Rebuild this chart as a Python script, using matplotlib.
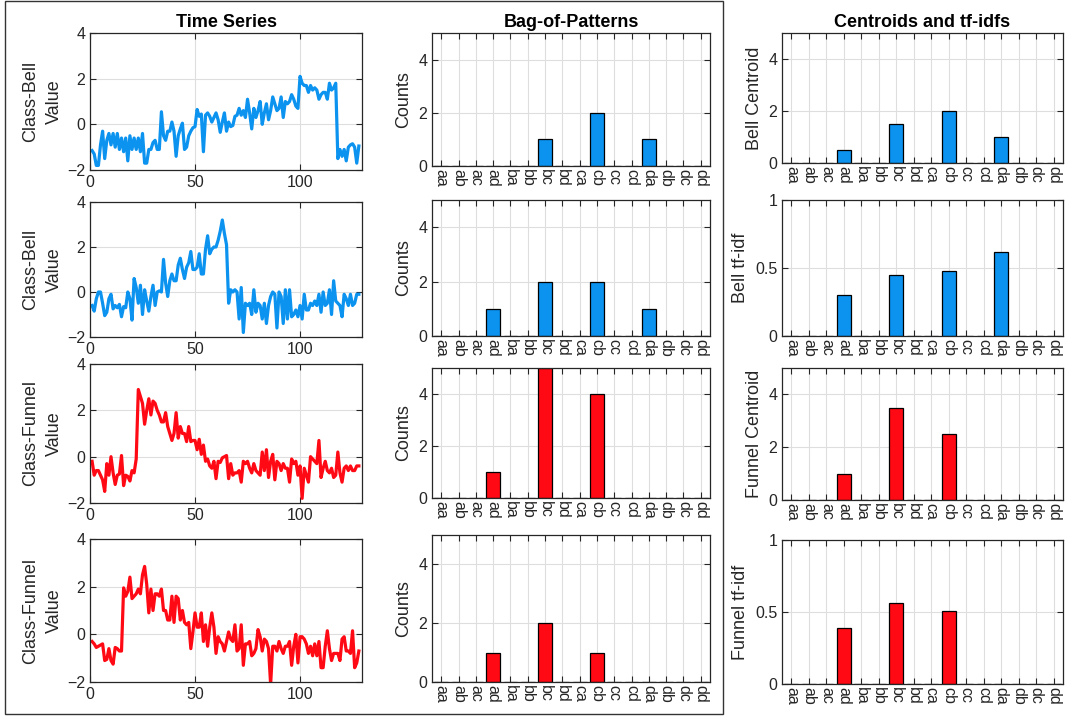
import numpy as np
import matplotlib
matplotlib.use("Agg")
import matplotlib.pyplot as plt
from matplotlib.patches import Rectangle

plt.rcParams["font.family"] = ["Liberation Sans", "DejaVu Sans"]

# ── Data ─────────────────────────────────────────────────────────────────────
patterns = ["aa", "ab", "ac", "ad", "ba", "bb", "bc", "bd",
            "ca", "cb", "cc", "cd", "da", "db", "dc", "dd"]

bell_1 = [-1.15, -1.3, -1.8, -1.8, -0.9, -0.3, -1.5, -0.7, -0.4, -0.9,
          -0.4, -1.0, -0.4, -1.1, -0.6, -1.2, -0.6, -1.6, -0.5, -1.1,
          -0.6, -1.1, -0.6, -1.2, -0.4, -1.7, -1.7, -1.1, -1.1, -0.8,
          -0.7, -1.1, -1.1, 0.55, -0.5, -0.7, -0.3, -0.3, 0.1, -0.3,
          -1.4, -0.5, -0.2, 0.05, -1.1, -1.0, -0.5, -0.3, -0.15, -0.1,
          0.65, 0.35, 0.45, -1.2, 0.4, 0.5, 0.35, 0.1, 0.3, 0.5,
          0.2, -0.35, 0.1, 0.5, -0.3, 0.1, -0.1, -0.05, 0.35, 0.4,
          0.7, 0.4, 0.6, 0.3, 1.1, 0.5, -0.2, 0.7, 0.3, 0.6,
          1.0, 0.0, 0.5, 0.9, 0.2, 0.6, 1.2, 0.9, 0.6, 0.7,
          1.2, 0.3, 1.0, 0.9, 1.0, 1.3, 1.1, 0.8, 0.7, 2.1,
          1.8, 1.7, 1.7, 1.4, 1.7, 1.5, 1.6, 1.5, 1.1, 1.3,
          1.4, 1.4, 1.1, 1.8, 1.5, 1.6, 1.8, -1.5, -1.1, -1.4,
          -1.1, -1.6, -1.0, -0.9, -0.85, -1.0, -1.7, -0.95]

bell_2 = [-0.6, -0.85, -0.3, 0.0, 0.0, -0.5, -1.05, -0.9, -0.3, -0.1,
          -0.75, -0.6, -0.7, -0.55, -1.1, -0.65, -0.7, 0.0, -0.3, -1.25,
          0.6, 0.2, -0.5, 0.3, -1.0, 0.1, -0.4, -0.85, -0.2, 0.3,
          -0.6, 0.0, 0.05, 0.0, 1.45, 0.4, -0.2, 0.5, 0.8, 0.5,
          0.5, 1.2, 1.5, 1.0, 0.6, 1.1, 1.3, 1.8, 1.0, 1.0,
          1.1, 1.7, 0.8, 0.8, 1.9, 2.5, 1.7, 1.9, 2.0, 2.0,
          2.3, 2.7, 3.2, 2.6, 2.1, -0.5, 0.1, 0.0, 0.1, 0.0,
          -1.2, 0.2, -1.8, -0.5, -0.6, -0.5, -1.0, 0.1, -0.9, -0.5,
          -0.6, -1.2, -0.5, -1.4, -0.6, -0.2, 0.0, -0.1, -1.6, 0.0,
          -0.2, -1.4, 0.1, -1.2, 0.1, -1.1, -1.0, -0.8, -1.1, -0.6,
          -1.2, -0.1, -0.8, -0.8, -0.5, -0.6, -0.4, -0.6, -0.1, -0.9,
          0.0, -0.6, -0.5, 0.1, -1.0, 0.5, -0.4, -0.5, -0.6, -1.1,
          -0.1, -0.3, -0.6, -0.1, -0.6, -0.5, -0.1, -0.1]

funnel_1 = [-0.2, -0.8, -0.6, -0.6, -0.8, -1.0, -1.5, -0.3, -0.8, 0.0,
            -0.7, -1.2, -0.8, -0.75, 0.05, -1.25, -0.8, -0.85, -1.05, -0.6,
            -0.7, -0.1, 2.9, 2.6, 2.3, 1.4, 2.0, 2.5, 1.8, 2.4,
            2.3, 2.0, 1.8, 1.5, 1.5, 1.9, 1.3, 1.0, 0.7, 1.0,
            1.9, 0.8, 1.3, 1.0, 1.0, 0.65, 1.3, 0.65, 0.7, 0.7,
            0.3, 0.75, 0.1, 0.5, -0.2, -0.1, -0.4, -0.5, -0.2, -0.95,
            -0.2, -0.25, -0.05, 0.0, 0.05, -0.95, -0.3, -0.8, -0.7, -0.7,
            -0.6, -1.1, -0.2, -0.3, -0.2, -0.5, -0.7, -0.3, -0.6, -0.7,
            -0.8, 0.2, -0.6, 0.3, -0.9, -0.2, 0.1, -1.0, -0.2, -0.3,
            -0.6, -0.3, -0.5, -0.5, -1.1, -0.1, -0.3, -0.2, -0.8, -0.4,
            -1.8, -0.5, -0.8, -1.1, 0.0, -0.1, -0.2, -0.3, 0.7, -0.9,
            -0.5, -0.2, -0.6, -0.7, -0.5, -0.9, -0.8, 0.2, -0.7, -1.1,
            -0.5, -0.4, -0.6, -0.4, -0.6, -0.6, -0.4, -0.4]

funnel_2 = [-0.3, -0.4, -0.55, -0.5, -0.45, -0.4, -1.1, -1.05, -0.6, -1.1,
            -1.25, -0.55, -0.6, -0.7, -0.7, 1.95, 1.6, 1.8, 2.4, 1.5,
            1.6, 1.7, 1.9, 1.7, 2.5, 2.85, 2.1, 0.9, 1.9, 1.0,
            1.7, 1.7, 1.6, 1.9, 1.0, 1.0, 0.6, 0.6, 1.6, 0.5,
            1.6, 1.5, 0.6, 1.0, 0.5, 0.4, 0.5, -0.6, 0.1, 0.9,
            0.3, 0.3, 0.9, -0.3, 0.4, -0.5, 0.3, 0.9, 0.3, -0.8,
            -0.1, -0.3, -0.4, -0.7, -0.3, 0.1, -0.2, -0.3, 0.4, -0.7,
            -0.6, 0.4, -1.3, -0.4, -0.4, -0.3, -0.9, -0.8, -0.6, 0.2,
            -0.1, -0.7, -0.2, -0.3, -0.6, -2.1, -0.5, -0.5, -0.7, -0.3,
            -0.6, -0.8, -0.5, -0.5, -0.3, -1.3, -0.5, 0.0, -1.2, -0.1,
            -0.1, -0.2, -0.4, -0.8, -0.5, -0.9, -0.4, -0.9, -0.3, -1.4,
            -1.4, -0.5, 0.15, -0.6, -1.1, -0.8, -0.8, -0.8, -1.1, -0.2,
            -0.1, -0.7, -0.7, -0.8, 0.15, -1.4, -1.2, -0.7]

series = [bell_1, bell_2, funnel_1, funnel_2]
series_labels = ["Class-Bell\nValue", "Class-Bell\nValue",
                 "Class-Funnel\nValue", "Class-Funnel\nValue"]

counts_bell_1   = [0, 0, 0, 0, 0, 0, 1, 0, 0, 2, 0, 0, 1, 0, 0, 0]
counts_bell_2   = [0, 0, 0, 1, 0, 0, 2, 0, 0, 2, 0, 0, 1, 0, 0, 0]
counts_funnel_1 = [0, 0, 0, 1, 0, 0, 5, 0, 0, 4, 0, 0, 0, 0, 0, 0]
counts_funnel_2 = [0, 0, 0, 1, 0, 0, 2, 0, 0, 1, 0, 0, 0, 0, 0, 0]
counts = [counts_bell_1, counts_bell_2, counts_funnel_1, counts_funnel_2]

bell_centroid   = [0, 0, 0, 0.5, 0, 0, 1.5, 0, 0, 2.0, 0, 0, 1.0, 0, 0, 0]
bell_tfidf      = [0, 0, 0, 0.30, 0, 0, 0.45, 0, 0, 0.48, 0, 0, 0.62, 0, 0, 0]
funnel_centroid = [0, 0, 0, 1.0, 0, 0, 3.5, 0, 0, 2.5, 0, 0, 0, 0, 0, 0]
funnel_tfidf    = [0, 0, 0, 0.39, 0, 0, 0.56, 0, 0, 0.51, 0, 0, 0, 0, 0, 0]
summary = [bell_centroid, bell_tfidf, funnel_centroid, funnel_tfidf]
summary_labels = ["Bell Centroid", "Bell tf-idf", "Funnel Centroid", "Funnel tf-idf"]

# ── Style ────────────────────────────────────────────────────────────────────
BLUE = "#0b93ef"
RED  = "#ff0a14"
row_colors = [BLUE, BLUE, RED, RED]
INK  = "#262626"
GRID = "#dedede"

W, H = 1072, 717
fig = plt.figure(figsize=(W / 100, H / 100), dpi=100, facecolor="white")

def add_axes(x0, y0, x1, y1):
    # pixel box (top-left origin) -> figure fraction
    return fig.add_axes([x0 / W, 1 - y1 / H, (x1 - x0) / W, (y1 - y0) / H])

def style(ax):
    ax.tick_params(direction="in", length=4, width=0.8, colors=INK,
                   labelsize=11.5, top=True, right=True)
    for sp in ax.spines.values():
        sp.set_edgecolor(INK)
        sp.set_linewidth(0.9)
    ax.grid(True, color=GRID, linewidth=0.8)
    ax.set_axisbelow(True)

rows_y = [(33, 170), (202, 337), (364, 503), (539, 682)]
bar_rows_y = [(33, 166), (200, 336), (368, 498), (535, 682)]
sum_rows_y = [(33, 163), (200, 336), (368, 500), (540, 684)]

# ── Column 1: time series ────────────────────────────────────────────────────
for i, (s, lab) in enumerate(zip(series, series_labels)):
    ax = add_axes(90, rows_y[i][0], 362, rows_y[i][1])
    style(ax)
    x = np.arange(1, len(s) + 1)
    ax.plot(x, s, color=row_colors[i], linewidth=2.3)
    ax.set_xlim(0, 129.5)
    ax.set_ylim(-2, 4)
    ax.set_xticks([0, 50, 100])
    ax.set_yticks([-2, 0, 2, 4])
    ax.set_ylabel(lab, fontsize=13, color=INK, labelpad=3, linespacing=1.5)
    if i == 0:
        ax.set_title("Time Series", fontsize=13, fontweight="bold", pad=4)

# ── Column 2 and 3: bar charts ───────────────────────────────────────────────
xpos = np.arange(1, len(patterns) + 1)

def bar_panel(ax, vals, color, ylim, yticks, ylabel):
    style(ax)
    ax.bar(xpos, vals, width=0.8, color=color, edgecolor="black", linewidth=0.9)
    ax.set_xlim(0.46, len(patterns) + 0.54)
    ax.set_ylim(*ylim)
    ax.set_yticks(yticks)
    ax.set_xticks(xpos)
    ax.set_xticklabels(patterns, rotation=-90, fontsize=11.5)
    ax.tick_params(axis="x", pad=2)
    ax.set_ylabel(ylabel, fontsize=13, color=INK, labelpad=4)

for i, vals in enumerate(counts):
    ax = add_axes(432, bar_rows_y[i][0], 710, bar_rows_y[i][1])
    bar_panel(ax, vals, row_colors[i], (0, 5), [0, 2, 4], "Counts")
    if i == 0:
        ax.set_title("Bag-of-Patterns", fontsize=13, fontweight="bold", pad=4)

for i, vals in enumerate(summary):
    ax = add_axes(782, sum_rows_y[i][0], 1063, sum_rows_y[i][1])
    if i % 2 == 0:
        bar_panel(ax, vals, row_colors[i], (0, 5), [0, 2, 4], summary_labels[i])
    else:
        bar_panel(ax, vals, row_colors[i], (0, 1), [0, 0.5, 1], summary_labels[i])
        ax.set_yticklabels(["0", "0.5", "1"])
    if i == 0:
        ax.set_title("Centroids and tf-idfs", fontsize=13, fontweight="bold", pad=4)

# frame around the first two columns
fig.patches.append(Rectangle((5 / W, 1 - 714 / H), (723 - 5) / W, 713 / H,
                             transform=fig.transFigure, fill=False,
                             edgecolor="#333333", linewidth=1.0))

fig.savefig("out.png", dpi=100, facecolor="white")
